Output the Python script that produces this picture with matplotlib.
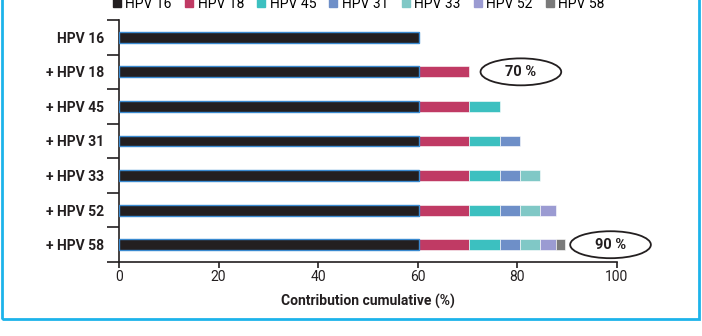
import matplotlib
matplotlib.use("Agg")
from matplotlib import pyplot as plt
from matplotlib.patches import Ellipse, Rectangle
from matplotlib.lines import Line2D
import numpy as np

plt.rcParams['font.family'] = ['Roboto', 'DejaVu Sans']

# Data
rows = ['HPV 16', '+ HPV 18', '+ HPV 45', '+ HPV 31', '+ HPV 33', '+ HPV 52', '+ HPV 58']
types = ['HPV 16', 'HPV 18', 'HPV 45', 'HPV 31', 'HPV 33', 'HPV 52', 'HPV 58']
contrib = [60.3, 10.0, 6.2, 4.0, 4.0, 3.2, 1.9]
colors = ['#231f20', '#c03a64', '#3cc0c0', '#6e8fc8', '#80c8c6', '#9b9bd2', '#7a7a7a']
notes = [(1, '70 %', 80.7), (6, '90 %', 98.7)]

ink = '#231f20'
fig = plt.figure(figsize=(7.02, 3.36), dpi=100)
ax = fig.add_axes([119/702, 1 - 262/336, 498/702, 242/336])

# y positions: first row at top
ypos = np.arange(len(rows))[::-1]
bar_h = 0.31
for i, y in enumerate(ypos):
    left = 0
    # row i includes the first i+1 types
    for k in range(i + 1):
        if k == 0:
            ax.barh(y, contrib[k], left=left, height=bar_h, color=colors[k],
                    edgecolor='#3a8ad0', linewidth=1.0, zorder=3)
        else:
            ax.barh(y, contrib[k], left=left, height=bar_h, color=colors[k],
                    edgecolor='white', linewidth=0.4, zorder=2)
        left += contrib[k]

# Ellipse notes
for r, txt, xc in notes:
    y = ypos[r]
    ax.add_patch(Ellipse((xc, y), 16.2, 0.78, facecolor='white', edgecolor=ink,
                         linewidth=1.3, clip_on=False, zorder=4))
    ax.text(xc, y, txt, ha='center', va='center', fontsize=10.5,
            fontweight='bold', color=ink, zorder=5)

ax.set_xlim(0, 100)
ax.set_ylim(-0.5, len(rows) - 0.5)
ax.set_xticks([0, 20, 40, 60, 80, 100])
ax.tick_params(axis='x', direction='out', length=4, width=1.2, colors=ink,
               labelsize=10, pad=1.5)
ax.set_yticks(np.arange(len(rows) + 1) - 0.5)
ax.set_yticklabels([])
ax.tick_params(axis='y', which='major', direction='out', length=9, width=1.2, colors=ink)
ax.set_yticks(ypos, minor=True)
ax.set_yticklabels(rows, minor=True, fontsize=10, fontweight='semibold', color=ink)
ax.tick_params(axis='y', which='minor', length=0, pad=10.5)
for s in ['top', 'right']:
    ax.spines[s].set_visible(False)
for s in ['left', 'bottom']:
    ax.spines[s].set_linewidth(1.2)
    ax.spines[s].set_color(ink)
ax.set_xlabel('Contribution cumulative (%)', fontsize=10, fontweight='semibold',
              color=ink, labelpad=7.5)

# Legend, cut by the top edge as in the source
handles = [Line2D([], [], marker='s', linestyle='', markersize=6, color=c,
                  markeredgecolor=c) for c in colors]
fig.legend(handles, types, loc='center', bbox_to_anchor=(358/702, 1 - 3.5/336),
           ncol=7, frameon=False, fontsize=10, handletextpad=0.2,
           columnspacing=0.85, handlelength=0.8)

# Cyan frame
fig.add_artist(Rectangle((2/702, 1 - 319/336), 697/702, 330/336,
                         transform=fig.transFigure, fill=False,
                         edgecolor='#1db3ea', linewidth=2.0))

fig.savefig('out.png', dpi=100)
